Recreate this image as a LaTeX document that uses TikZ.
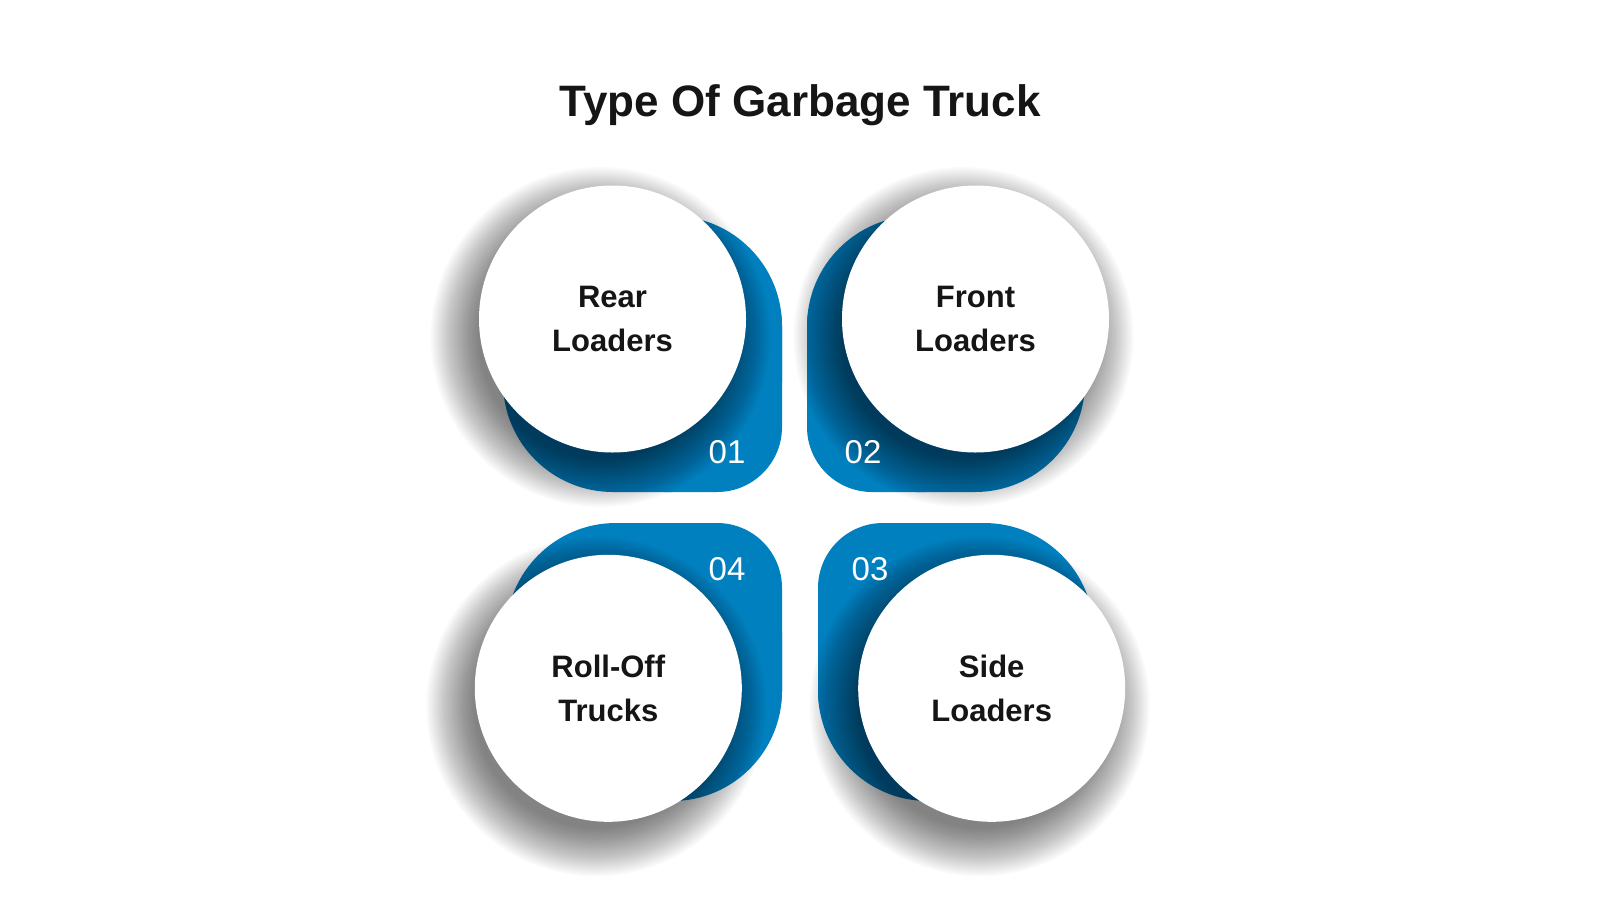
\documentclass[tikz,border=0pt]{standalone}
\usepackage{fontspec}
\setmainfont{Liberation Sans}
\definecolor{tblue}{HTML}{0080BF}
\definecolor{ink}{HTML}{151515}
\newcommand\blobshape[4]{% x1 y1 x2 y2 : base rounded square
  \fill[blob, rounded corners=110pt] (#1,#2) rectangle (#3,#4);}
\newcommand\softshadow[1]{% centre coordinate name
  \foreach \k in {0,...,29}{
    \fill[black, opacity=0.019] ([shift={(-12,18)}]#1) circle ({122pt+48pt*(1-\k/29)});
  }}
\begin{document}
\begin{tikzpicture}[x=1pt,y=-1pt,
  disc/.style={circle, fill=white, minimum size=267pt, inner sep=0pt, align=center,
    font=\fontsize{31}{44}\selectfont\bfseries, text=ink},
  num/.style={text=white, anchor=base, font=\fontsize{33}{33}\selectfont},
  blob/.style={fill=tblue}]
\useasboundingbox[fill=white] (0,0) rectangle (1600,900);
\node[anchor=base, text=ink, font=\fontsize{44}{50}\selectfont\bfseries] (title) at (800,116) {Type Of Garbage Truck};

\coordinate (p1) at (612.5,319);
\coordinate (p2) at (975.5,319);
\coordinate (p3) at (991.7,688.3);
\coordinate (p4) at (608.3,688.3);

% blob 1 (number corner bottom-right)
\blobshape{503}{216}{782}{492}
\fill[blob, rounded corners=65pt] (600,260) rectangle (782,492);
% blob 2 (number corner bottom-left)
\blobshape{807}{216}{1085}{492}
\fill[blob, rounded corners=65pt] (807,260) rectangle (990,492);
% blob 3 (number corner top-left)
\blobshape{818}{523}{1094}{801}
\fill[blob, rounded corners=65pt] (818,523) rectangle (1000,757);
% blob 4 (number corner top-right)
\blobshape{506}{523}{782}{801}
\fill[blob, rounded corners=65pt] (600,523) rectangle (782,757);

\softshadow{p1}
\softshadow{p2}
\softshadow{p3}
\softshadow{p4}

\node[disc] (c1) at (p1) {Rear\\Loaders};
\node[disc] (c2) at (p2) {Front\\Loaders};
\node[disc] (c3) at (p3) {Side\\Loaders};
\node[disc] (c4) at (p4) {Roll-Off\\Trucks};

\node[num] (n1) at (727,463) {01};
\node[num] (n2) at (863,463) {02};
\node[num] (n3) at (870,580) {03};
\node[num] (n4) at (727,580) {04};
\end{tikzpicture}
\end{document}
